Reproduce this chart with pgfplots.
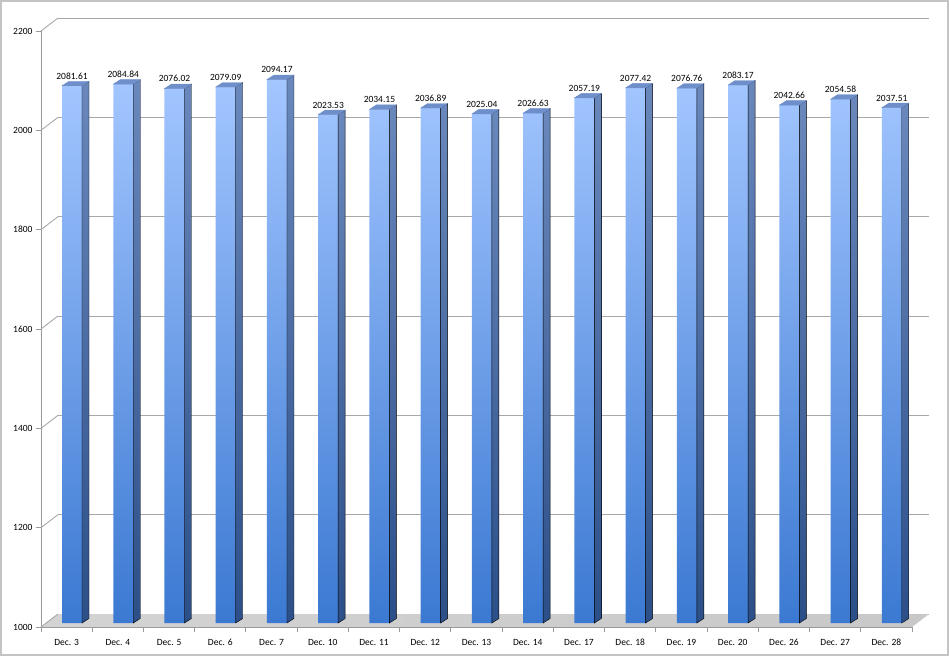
\documentclass[border=0pt]{standalone}
\usepackage{fontspec}
\setmainfont{Carlito}
\usepackage{pgfplots}
\pgfplotsset{compat=1.18}
\usepackage{pgfplotstable}
\definecolor{frontTop}{HTML}{A3C6FF}
\definecolor{frontBot}{HTML}{3B79D2}
\definecolor{sideTop}{HTML}{6A88BC}
\definecolor{sideBot}{HTML}{2C4F88}
\definecolor{topFace}{HTML}{6F8FCB}
\definecolor{gridc}{HTML}{A8A8A8}
\definecolor{axisc}{HTML}{9A9A9A}
\definecolor{floorc}{HTML}{C8C8C8}
\definecolor{borderc}{HTML}{C4C4C4}

\pgfplotstableread{
x y
0 2081.61
1 2084.84
2 2076.02
3 2079.09
4 2094.17
5 2023.53
6 2034.15
7 2036.89
8 2025.04
9 2026.63
10 2057.19
11 2077.42
12 2076.76
13 2083.17
14 2042.66
15 2054.58
16 2037.51
}\data

\pgfplotsset{
  base/.style={scale only axis, width=871pt, height=596pt,
    xmin=-0.5, xmax=16.5, anchor=south west,
    /pgf/number format/assume math mode=true,
    /pgf/number format/set thousands separator={}},
}

\begin{document}
\begin{tikzpicture}
\useasboundingbox (0,0) rectangle (949pt,656pt);
\draw[borderc, line width=2pt] (1pt,1pt) rectangle (948pt,655pt);

% back wall with gridlines
\begin{axis}[base, at={(58pt,42pt)}, ymin=1000, ymax=2200,
  axis line style={draw=none}, xtick=\empty,
  ytick={1000,1200,...,2200}, yticklabels={},
  major tick length=0pt, ymajorgrids,
  grid style={gridc, line width=0.9pt}]
\end{axis}

% floor
\shade[left color=floorc!80!white, right color=floorc] (41pt,29pt) -- (912pt,29pt) -- (929pt,42pt) -- (58pt,42pt) -- cycle;

% front plane: ticks and labels
\begin{axis}[base, at={(41pt,29pt)}, ymin=1000, ymax=2200,
  axis x line*=bottom, axis y line*=left,
  axis line style={axisc, line width=0.9pt, -},
  ytick={1000,1200,...,2200},
  xtick={-0.5,0.5,...,16.5},
  xticklabels={},
  extra x ticks={0,...,16},
  extra x tick labels={Dec. 3,Dec. 4,Dec. 5,Dec. 6,Dec. 7,Dec. 10,Dec. 11,Dec. 12,Dec. 13,Dec. 14,Dec. 17,Dec. 18,Dec. 19,Dec. 20,Dec. 26,Dec. 27,Dec. 28},
  extra x tick style={major tick length=0pt, tick style={draw=none},
    xticklabel style={anchor=base, yshift=-18pt}},
  tick align=outside,
  tick style={axisc, line width=0.9pt},
  major tick length=5pt,
  ticklabel style={font=\fontsize{9.5}{11}\selectfont, text=black},
  after end axis/.code={
    \foreach \v in {1000,1200,...,2200}
      \draw[gridc, line width=0.9pt] (axis cs:-0.5,\v) -- ++(17pt,13pt);
  }]
\end{axis}

% bars
\begin{axis}[base, at={(46.4pt,33pt)}, ymin=0, ymax=1200,
  hide axis, clip=true]
\addplot[scatter, only marks, mark=*, mark size=0pt,
  mark options={draw=none, fill=none},
  visualization depends on={y \as \yy},
  scatter/@pre marker code/.code={
    \pgfmathsetlengthmacro{\hh}{\yy*0.496667pt}
    \shade[top color=sideTop, bottom color=sideBot]
      (10pt,0pt) -- (17pt,4.5pt) -- (17pt,-\hh+4.5pt) -- (10pt,-\hh) -- cycle;
    \fill[topFace] (-10pt,0pt) -- (-3pt,4.5pt) -- (17pt,4.5pt) -- (10pt,0pt) -- cycle;
  },
  scatter/@post marker code/.code={}]
  table[x=x, y expr=\thisrow{y}-1000] {\data};
\addplot[ybar, bar width=20pt, draw=none,
  top color=frontTop, bottom color=frontBot,
  point meta=explicit,
  nodes near coords,
  nodes near coords style={font=\fontsize{9.5}{11}\selectfont, text=black,
    anchor=south, yshift=3pt,
    /pgf/number format/fixed, /pgf/number format/fixed zerofill,
    /pgf/number format/precision=2,
    /pgf/number format/set thousands separator={},
    /pgf/number format/assume math mode=true}]
  table[x=x, y expr=\thisrow{y}-1000, meta=y] {\data};
\end{axis}
\end{tikzpicture}
\end{document}
